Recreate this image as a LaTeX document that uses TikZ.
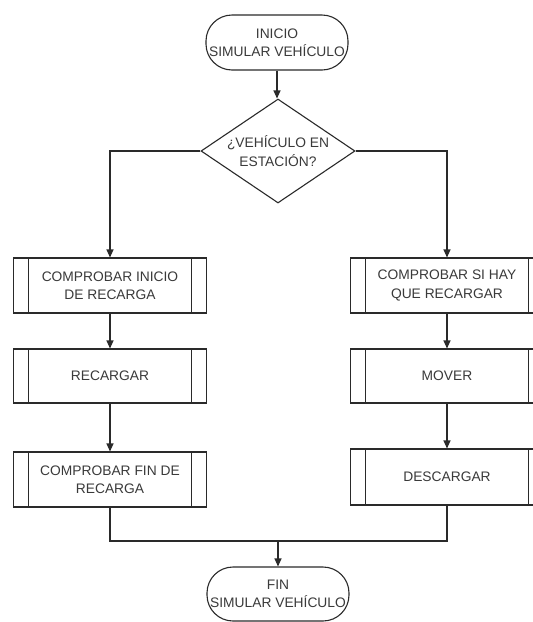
\documentclass[tikz,border=0pt]{standalone}
\usepackage{fontspec}
\setmainfont{Liberation Sans}
\usetikzlibrary{shapes.geometric,arrows.meta,calc}
\definecolor{linec}{HTML}{2A2A2A}
\definecolor{textc}{HTML}{3A3A3A}
\tikzset{
  base/.style={draw=linec, line width=1.1pt, text=textc, align=center,
    font=\fontsize{13.8}{18.5}\selectfont, inner sep=0pt},
  terminal/.style={base, rectangle, rounded corners=26pt,
    minimum width=142pt, minimum height=55pt},
  decision/.style={base, diamond, shape aspect=1.5,
    minimum width=154pt, minimum height=104pt},
  process/.style={base, rectangle, minimum width=193pt, minimum height=55pt,
    path picture={
      \draw[linec, line width=1.1pt]
        ([xshift=15pt]path picture bounding box.north west) --
        ([xshift=15pt]path picture bounding box.south west)
        ([xshift=-15pt]path picture bounding box.north east) --
        ([xshift=-15pt]path picture bounding box.south east);
    }},
  conn/.style={draw=linec, line width=1.1pt},
  arr/.style={conn, -{Triangle[length=8pt,width=7pt]}}
}
\begin{document}
\begin{tikzpicture}[x=1pt,y=-1pt]
\clip (0,0) rectangle (533,622);
\fill[white] (0,0) rectangle (533,622);

\node[terminal] (start) at (277,42.5) {INICIO\\SIMULAR VEHÍCULO};
\node[decision] (dec) at (278,151) {¿VEHÍCULO EN\\ESTACIÓN?};

\node[process] (l1) at (110,285.5) {COMPROBAR INICIO\\DE RECARGA};
\node[process, minimum height=54pt] (l2) at (110,376) {RECARGAR};
\node[process] (l3) at (110,479.5) {COMPROBAR FIN DE\\RECARGA};

\node[process] (r1) at (447,285.5) {COMPROBAR SI HAY\\QUE RECARGAR};
\node[process, minimum height=54pt] (r2) at (447,376) {MOVER};
\node[process, minimum height=56pt] (r3) at (447,477) {DESCARGAR};

\node[terminal, minimum height=54pt] (end) at (278,594) {FIN\\SIMULAR VEHÍCULO};

\coordinate (m) at (278,541);

\draw[arr] (start.south) -- (start.south |- dec.north);
\draw[arr] (dec.west) -| (l1.north);
\draw[arr] (dec.east) -| (r1.north);
\draw[arr] (l1) -- (l2);
\draw[arr] (l2) -- (l3);
\draw[arr] (r1) -- (r2);
\draw[arr] (r2) -- (r3);
\draw[conn] (l3.south) |- (m);
\draw[conn] (r3.south) |- (m);
\draw[arr] (m) -- (end.north);
\end{tikzpicture}
\end{document}
